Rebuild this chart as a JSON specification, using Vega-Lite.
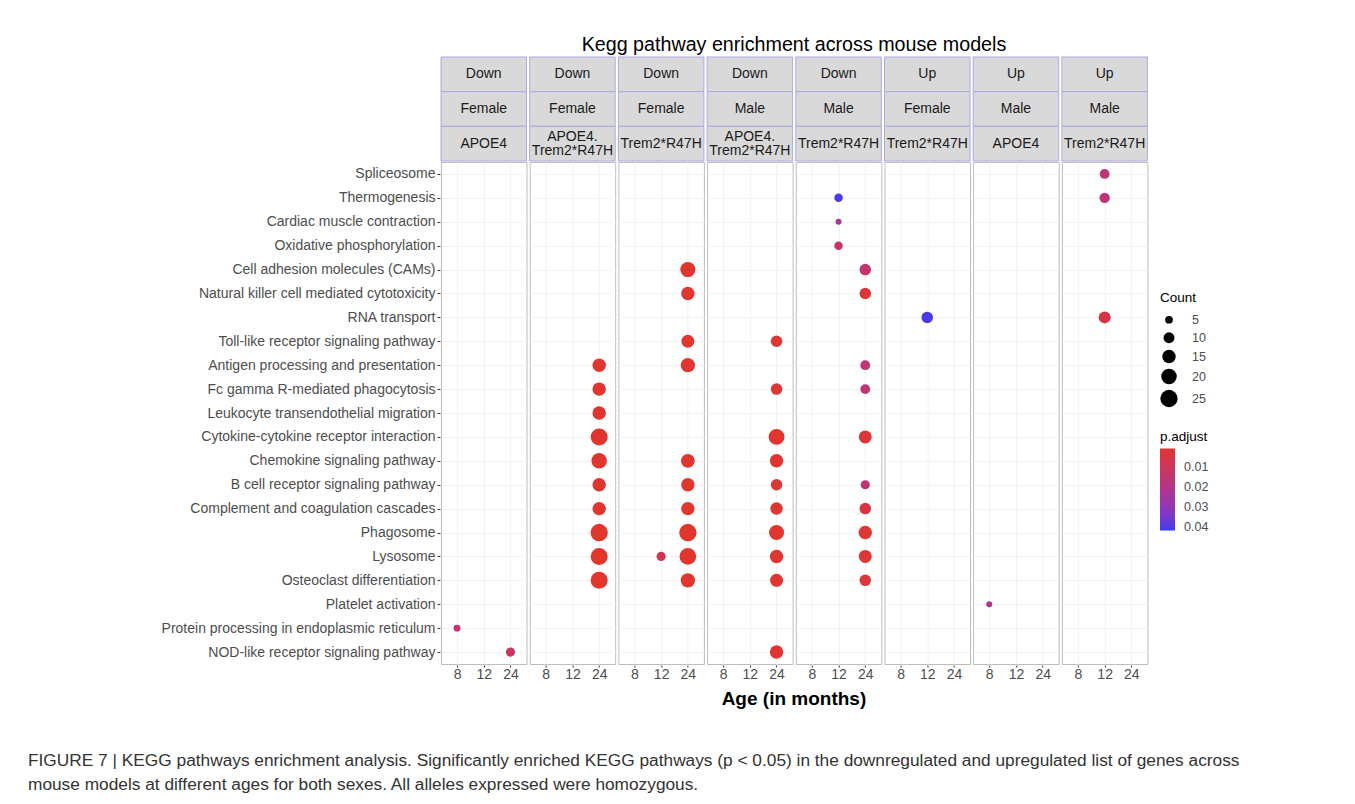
{
  "$schema": "https://vega.github.io/schema/vega-lite/v6.json",
  "background": "white",
  "padding": {"left": 28, "top": 34, "right": 10, "bottom": 5},
  "config": {
    "font": "Liberation Sans",
    "view": {"stroke": null}
  },
  "title": {
    "text": ["FIGURE 7 | KEGG pathways enrichment analysis. Significantly enriched KEGG pathways (p < 0.05) in the downregulated and upregulated list of genes across", "mouse models at different ages for both sexes. All alleles expressed were homozygous."],
    "orient": "bottom", "anchor": "start", "frame": "bounds", "dx": -122, "offset": 43,
    "fontSize": 17.3, "fontWeight": "normal", "color": "#333333", "lineHeight": 24, "font": "Liberation Sans"
  },
  "datasets": {
    "strips": [
      {"panel": 1, "level": "direction", "label": "Down"},
      {"panel": 1, "level": "sex", "label": "Female"},
      {"panel": 1, "level": "model", "label": "APOE4"},
      {"panel": 2, "level": "direction", "label": "Down"},
      {"panel": 2, "level": "sex", "label": "Female"},
      {"panel": 2, "level": "model", "label": "APOE4.\nTrem2*R47H"},
      {"panel": 3, "level": "direction", "label": "Down"},
      {"panel": 3, "level": "sex", "label": "Female"},
      {"panel": 3, "level": "model", "label": "Trem2*R47H"},
      {"panel": 4, "level": "direction", "label": "Down"},
      {"panel": 4, "level": "sex", "label": "Male"},
      {"panel": 4, "level": "model", "label": "APOE4.\nTrem2*R47H"},
      {"panel": 5, "level": "direction", "label": "Down"},
      {"panel": 5, "level": "sex", "label": "Male"},
      {"panel": 5, "level": "model", "label": "Trem2*R47H"},
      {"panel": 6, "level": "direction", "label": "Up"},
      {"panel": 6, "level": "sex", "label": "Female"},
      {"panel": 6, "level": "model", "label": "Trem2*R47H"},
      {"panel": 7, "level": "direction", "label": "Up"},
      {"panel": 7, "level": "sex", "label": "Male"},
      {"panel": 7, "level": "model", "label": "APOE4"},
      {"panel": 8, "level": "direction", "label": "Up"},
      {"panel": 8, "level": "sex", "label": "Male"},
      {"panel": 8, "level": "model", "label": "Trem2*R47H"}
    ],
    "dots": [
      {"panel": 1, "pathway": "Protein processing in endoplasmic reticulum", "age": 8, "count": 4, "padj": 0.014},
      {"panel": 1, "pathway": "NOD-like receptor signaling pathway", "age": 24, "count": 7, "padj": 0.011},

      {"panel": 2, "pathway": "Antigen processing and presentation", "age": 24, "count": 15, "padj": 0.0006},
      {"panel": 2, "pathway": "Fc gamma R-mediated phagocytosis", "age": 24, "count": 15, "padj": 0.0006},
      {"panel": 2, "pathway": "Leukocyte transendothelial migration", "age": 24, "count": 15, "padj": 0.0006},
      {"panel": 2, "pathway": "Cytokine-cytokine receptor interaction", "age": 24, "count": 24, "padj": 0.0005},
      {"panel": 2, "pathway": "Chemokine signaling pathway", "age": 24, "count": 20, "padj": 0.0005},
      {"panel": 2, "pathway": "B cell receptor signaling pathway", "age": 24, "count": 15, "padj": 0.0006},
      {"panel": 2, "pathway": "Complement and coagulation cascades", "age": 24, "count": 15, "padj": 0.0006},
      {"panel": 2, "pathway": "Phagosome", "age": 24, "count": 25, "padj": 0.0004},
      {"panel": 2, "pathway": "Lysosome", "age": 24, "count": 24, "padj": 0.0004},
      {"panel": 2, "pathway": "Osteoclast differentiation", "age": 24, "count": 24, "padj": 0.0004},

      {"panel": 3, "pathway": "Cell adhesion molecules (CAMs)", "age": 24, "count": 19, "padj": 0.0006},
      {"panel": 3, "pathway": "Natural killer cell mediated cytotoxicity", "age": 24, "count": 15, "padj": 0.0008},
      {"panel": 3, "pathway": "Toll-like receptor signaling pathway", "age": 24, "count": 14, "padj": 0.0008},
      {"panel": 3, "pathway": "Antigen processing and presentation", "age": 24, "count": 17, "padj": 0.0006},
      {"panel": 3, "pathway": "Chemokine signaling pathway", "age": 24, "count": 16, "padj": 0.0008},
      {"panel": 3, "pathway": "B cell receptor signaling pathway", "age": 24, "count": 15, "padj": 0.0008},
      {"panel": 3, "pathway": "Complement and coagulation cascades", "age": 24, "count": 15, "padj": 0.0008},
      {"panel": 3, "pathway": "Phagosome", "age": 24, "count": 25, "padj": 0.0004},
      {"panel": 3, "pathway": "Lysosome", "age": 24, "count": 23, "padj": 0.0004},
      {"panel": 3, "pathway": "Lysosome", "age": 12, "count": 7, "padj": 0.008},
      {"panel": 3, "pathway": "Osteoclast differentiation", "age": 24, "count": 17, "padj": 0.0006},

      {"panel": 4, "pathway": "Toll-like receptor signaling pathway", "age": 24, "count": 11, "padj": 0.002},
      {"panel": 4, "pathway": "Fc gamma R-mediated phagocytosis", "age": 24, "count": 11, "padj": 0.002},
      {"panel": 4, "pathway": "Cytokine-cytokine receptor interaction", "age": 24, "count": 21, "padj": 0.0006},
      {"panel": 4, "pathway": "Chemokine signaling pathway", "age": 24, "count": 15, "padj": 0.001},
      {"panel": 4, "pathway": "B cell receptor signaling pathway", "age": 24, "count": 11, "padj": 0.002},
      {"panel": 4, "pathway": "Complement and coagulation cascades", "age": 24, "count": 13, "padj": 0.001},
      {"panel": 4, "pathway": "Phagosome", "age": 24, "count": 19, "padj": 0.0006},
      {"panel": 4, "pathway": "Lysosome", "age": 24, "count": 15, "padj": 0.001},
      {"panel": 4, "pathway": "Osteoclast differentiation", "age": 24, "count": 14, "padj": 0.001},
      {"panel": 4, "pathway": "NOD-like receptor signaling pathway", "age": 24, "count": 15, "padj": 0.001},

      {"panel": 5, "pathway": "Thermogenesis", "age": 12, "count": 6, "padj": 0.041},
      {"panel": 5, "pathway": "Cardiac muscle contraction", "age": 12, "count": 3, "padj": 0.022},
      {"panel": 5, "pathway": "Oxidative phosphorylation", "age": 12, "count": 6, "padj": 0.012},
      {"panel": 5, "pathway": "Cell adhesion molecules (CAMs)", "age": 24, "count": 11, "padj": 0.014},
      {"panel": 5, "pathway": "Natural killer cell mediated cytotoxicity", "age": 24, "count": 11, "padj": 0.003},
      {"panel": 5, "pathway": "Antigen processing and presentation", "age": 24, "count": 8, "padj": 0.015},
      {"panel": 5, "pathway": "Fc gamma R-mediated phagocytosis", "age": 24, "count": 8, "padj": 0.015},
      {"panel": 5, "pathway": "Cytokine-cytokine receptor interaction", "age": 24, "count": 14, "padj": 0.003},
      {"panel": 5, "pathway": "B cell receptor signaling pathway", "age": 24, "count": 7, "padj": 0.015},
      {"panel": 5, "pathway": "Complement and coagulation cascades", "age": 24, "count": 11, "padj": 0.004},
      {"panel": 5, "pathway": "Phagosome", "age": 24, "count": 15, "padj": 0.002},
      {"panel": 5, "pathway": "Lysosome", "age": 24, "count": 14, "padj": 0.002},
      {"panel": 5, "pathway": "Osteoclast differentiation", "age": 24, "count": 11, "padj": 0.003},

      {"panel": 6, "pathway": "RNA transport", "age": 12, "count": 11, "padj": 0.041},

      {"panel": 7, "pathway": "Platelet activation", "age": 8, "count": 3, "padj": 0.022},

      {"panel": 8, "pathway": "Spliceosome", "age": 12, "count": 8, "padj": 0.016},
      {"panel": 8, "pathway": "Thermogenesis", "age": 12, "count": 9, "padj": 0.016},
      {"panel": 8, "pathway": "RNA transport", "age": 12, "count": 12, "padj": 0.005}
    ]
  },
  "spacing": -4,
  "vconcat": [
    {
      "data": {"name": "strips"},
      "title": {"text": "Kegg pathway enrichment across mouse models", "fontSize": 19.7, "fontWeight": "normal", "anchor": "middle", "frame": "bounds", "dx": 145, "offset": 2, "color": "#000000"},
      "facet": {"column": {"field": "panel", "type": "ordinal", "header": {"labels": false, "title": null}}},
      "spacing": 1.7,
      "spec": {
        "width": 85.5,
        "height": 104,
        "view": {"stroke": null},
        "layer": [
          {
            "mark": {"type": "rect", "fill": "#d9d9d9", "stroke": "#aaaae6", "strokeWidth": 1},
            "encoding": {
              "y": {"field": "level", "type": "nominal", "sort": ["direction", "sex", "model"],
                    "scale": {"paddingInner": 0, "paddingOuter": 0},
                    "axis": {"labels": false, "ticks": false, "domain": false, "grid": false, "title": null, "minExtent": 290, "maxExtent": 290}}
            }
          },
          {
            "transform": [{"filter": "indexof(datum.label, '\\n') < 0"}],
            "mark": {"type": "text", "fontSize": 14, "color": "#1a1a1a"},
            "encoding": {
              "y": {"field": "level", "type": "nominal", "sort": ["direction", "sex", "model"]},
              "text": {"field": "label"}
            }
          },
          {
            "transform": [{"filter": "indexof(datum.label, '\\n') >= 0"}],
            "mark": {"type": "text", "fontSize": 14, "color": "#1a1a1a", "lineBreak": "\n", "lineHeight": 13.5, "dy": -6.5},
            "encoding": {
              "y": {"field": "level", "type": "nominal", "sort": ["direction", "sex", "model"]},
              "text": {"field": "label"}
            }
          }
        ]
      }
    },
    {
      "data": {"name": "dots"},
      "title": {"text": "Age (in months)", "orient": "bottom", "fontSize": 19, "fontWeight": "bold", "anchor": "middle", "frame": "bounds", "dx": 145, "offset": 9, "color": "#000000"},
      "facet": {"column": {"field": "panel", "type": "ordinal", "header": {"labels": false, "title": null}}},
      "spacing": 1.7,
      "spec": {
        "width": 85.5,
        "height": 502,
        "view": {"stroke": "#bdbdbd"},
        "mark": {"type": "circle", "opacity": 1},
        "encoding": {
          "x": {"field": "age", "type": "ordinal", "scale": {"domain": [8, 12, 24], "padding": 0.6},
                "axis": {"title": null, "labelAngle": 0, "labelFontSize": 14, "labelColor": "#4d4d4d", "tickSize": 2, "tickColor": "#333333", "labelPadding": 0, "domain": false, "grid": true, "gridColor": "#f2f2f2"}},
          "y": {"field": "pathway", "type": "nominal",
                "scale": {"domain": ["Spliceosome", "Thermogenesis", "Cardiac muscle contraction", "Oxidative phosphorylation", "Cell adhesion molecules (CAMs)", "Natural killer cell mediated cytotoxicity", "RNA transport", "Toll-like receptor signaling pathway", "Antigen processing and presentation", "Fc gamma R-mediated phagocytosis", "Leukocyte transendothelial migration", "Cytokine-cytokine receptor interaction", "Chemokine signaling pathway", "B cell receptor signaling pathway", "Complement and coagulation cascades", "Phagosome", "Lysosome", "Osteoclast differentiation", "Platelet activation", "Protein processing in endoplasmic reticulum", "NOD-like receptor signaling pathway"], "padding": 0.5},
                "axis": {"title": null, "labelFontSize": 14, "labelColor": "#4d4d4d", "tickSize": 3, "tickColor": "#333333", "labelPadding": 2, "domain": false, "grid": true, "gridColor": "#f2f2f2", "labelLimit": 400, "minExtent": 290, "maxExtent": 290}},
          "size": {"field": "count", "type": "quantitative", "title": "Count",
                   "scale": {"domain": [0, 25], "range": [0, 300]},
                   "legend": {"values": [5, 10, 15, 20, 25], "orient": "none", "legendX": 719, "legendY": 234, "symbolType": "circle", "symbolFillColor": "black", "symbolStrokeWidth": 0, "symbolOpacity": 1, "labelFontSize": 12.5, "labelColor": "#4d4d4d", "labelOffset": 14, "titleFontSize": 13.5, "titleFontWeight": "normal", "titleColor": "#000000", "titlePadding": 9, "rowPadding": 5}},
          "color": {"field": "padj", "type": "quantitative", "title": "p.adjust",
                    "scale": {"domain": [0.042, 0.0004], "range": ["#3b3bf0", "#e0362e"], "interpolate": "lab", "nice": false, "zero": false},
                    "legend": {"orient": "none", "legendX": 719, "legendY": 373, "direction": "vertical", "gradientLength": 82, "gradientThickness": 15, "values": [0.01, 0.02, 0.03, 0.04], "format": ".2f", "labelFontSize": 12.5, "labelColor": "#4d4d4d", "labelOffset": 9, "titleFontSize": 13.5, "titleFontWeight": "normal", "titleColor": "#000000"}}
        }
      }
    }
  ]
}
